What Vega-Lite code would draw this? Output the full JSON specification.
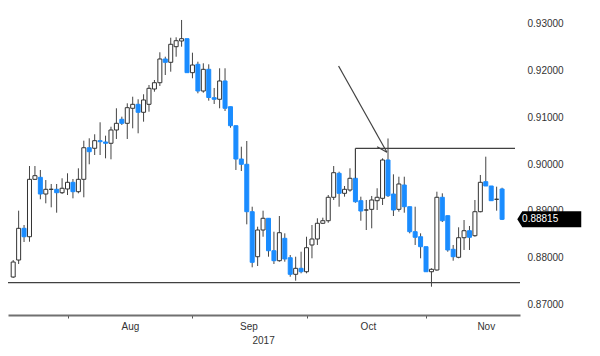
{
  "$schema": "https://vega.github.io/schema/vega-lite/v6.json",
  "autosize": "none",
  "width": 512,
  "height": 315,
  "padding": {"left": 8, "top": 0, "right": 80, "bottom": 41},
  "background": "#ffffff",
  "config": {
    "view": {"stroke": null},
    "font": "Liberation Sans",
    "axis": {"labelFont": "Liberation Sans", "labelFontSize": 10, "labelColor": "#333333", "grid": false}
  },
  "datasets": {
    "candles": [
      {"day": 0, "open": 0.87579, "high": 0.87943, "low": 0.87558, "close": 0.87900},
      {"day": 1, "open": 0.87943, "high": 0.89000, "low": 0.87858, "close": 0.88622},
      {"day": 2, "open": 0.88622, "high": 0.88693, "low": 0.88329, "close": 0.88442},
      {"day": 3, "open": 0.88442, "high": 0.89957, "low": 0.88335, "close": 0.89672},
      {"day": 4, "open": 0.89672, "high": 0.89957, "low": 0.89657, "close": 0.89750},
      {"day": 5, "open": 0.89715, "high": 0.89872, "low": 0.89244, "close": 0.89357},
      {"day": 6, "open": 0.89357, "high": 0.89657, "low": 0.89158, "close": 0.89458},
      {"day": 7, "open": 0.89458, "high": 0.89572, "low": 0.89072, "close": 0.89458},
      {"day": 8, "open": 0.89458, "high": 0.89572, "low": 0.88957, "close": 0.89385},
      {"day": 9, "open": 0.89385, "high": 0.89694, "low": 0.89357, "close": 0.89480},
      {"day": 10, "open": 0.89465, "high": 0.89801, "low": 0.89336, "close": 0.89608},
      {"day": 11, "open": 0.89608, "high": 0.89679, "low": 0.89265, "close": 0.89407},
      {"day": 12, "open": 0.89407, "high": 0.89908, "low": 0.89372, "close": 0.89672},
      {"day": 13, "open": 0.89672, "high": 0.90500, "low": 0.89287, "close": 0.90349},
      {"day": 14, "open": 0.90349, "high": 0.90551, "low": 0.89994, "close": 0.90264},
      {"day": 15, "open": 0.90337, "high": 0.90637, "low": 0.90193, "close": 0.90500},
      {"day": 16, "open": 0.90500, "high": 0.90894, "low": 0.90193, "close": 0.90478},
      {"day": 17, "open": 0.90472, "high": 0.90607, "low": 0.90122, "close": 0.90444},
      {"day": 18, "open": 0.90444, "high": 0.90799, "low": 0.90101, "close": 0.90729},
      {"day": 19, "open": 0.90729, "high": 0.91194, "low": 0.90536, "close": 0.90872},
      {"day": 20, "open": 0.90958, "high": 0.91014, "low": 0.90836, "close": 0.90872},
      {"day": 21, "open": 0.90872, "high": 0.91301, "low": 0.90536, "close": 0.91207},
      {"day": 22, "open": 0.91194, "high": 0.91442, "low": 0.90765, "close": 0.91279},
      {"day": 23, "open": 0.91279, "high": 0.91387, "low": 0.90658, "close": 0.91108},
      {"day": 24, "open": 0.91108, "high": 0.91494, "low": 0.90907, "close": 0.91372},
      {"day": 25, "open": 0.91279, "high": 0.91693, "low": 0.91121, "close": 0.91622},
      {"day": 26, "open": 0.91607, "high": 0.91800, "low": 0.91549, "close": 0.91742},
      {"day": 27, "open": 0.91742, "high": 0.92394, "low": 0.91672, "close": 0.92250},
      {"day": 28, "open": 0.92250, "high": 0.92299, "low": 0.91907, "close": 0.92179},
      {"day": 29, "open": 0.92179, "high": 0.92706, "low": 0.91978, "close": 0.92565},
      {"day": 30, "open": 0.92514, "high": 0.92715, "low": 0.92299, "close": 0.92642},
      {"day": 31, "open": 0.92636, "high": 0.93086, "low": 0.92514, "close": 0.92685},
      {"day": 32, "open": 0.92685, "high": 0.92685, "low": 0.91957, "close": 0.91957},
      {"day": 33, "open": 0.91957, "high": 0.92385, "low": 0.91837, "close": 0.92121},
      {"day": 34, "open": 0.92136, "high": 0.92192, "low": 0.91515, "close": 0.91564},
      {"day": 35, "open": 0.91564, "high": 0.92158, "low": 0.91528, "close": 0.92029},
      {"day": 36, "open": 0.92029, "high": 0.92136, "low": 0.91357, "close": 0.91425},
      {"day": 37, "open": 0.91421, "high": 0.91629, "low": 0.91286, "close": 0.91387},
      {"day": 38, "open": 0.91387, "high": 0.92051, "low": 0.91194, "close": 0.91779},
      {"day": 39, "open": 0.91779, "high": 0.92051, "low": 0.91136, "close": 0.91194},
      {"day": 40, "open": 0.91228, "high": 0.91228, "low": 0.90778, "close": 0.90821},
      {"day": 41, "open": 0.90821, "high": 0.90821, "low": 0.89872, "close": 0.90107},
      {"day": 42, "open": 0.90107, "high": 0.90371, "low": 0.89850, "close": 0.89994},
      {"day": 43, "open": 0.89994, "high": 0.90493, "low": 0.88708, "close": 0.88978},
      {"day": 44, "open": 0.88978, "high": 0.89085, "low": 0.87787, "close": 0.87894},
      {"day": 45, "open": 0.88014, "high": 0.88657, "low": 0.87815, "close": 0.88586},
      {"day": 46, "open": 0.88586, "high": 0.89000, "low": 0.88442, "close": 0.88837},
      {"day": 47, "open": 0.88837, "high": 0.88837, "low": 0.88014, "close": 0.88142},
      {"day": 48, "open": 0.88142, "high": 0.88550, "low": 0.87858, "close": 0.87928},
      {"day": 49, "open": 0.87928, "high": 0.88886, "low": 0.87907, "close": 0.88528},
      {"day": 50, "open": 0.88408, "high": 0.88515, "low": 0.87907, "close": 0.87965},
      {"day": 51, "open": 0.87992, "high": 0.88050, "low": 0.87585, "close": 0.87637},
      {"day": 52, "open": 0.87637, "high": 0.88014, "low": 0.87500, "close": 0.87765},
      {"day": 53, "open": 0.87765, "high": 0.88121, "low": 0.87658, "close": 0.87692},
      {"day": 54, "open": 0.87692, "high": 0.88442, "low": 0.87658, "close": 0.88207},
      {"day": 55, "open": 0.88265, "high": 0.88693, "low": 0.87980, "close": 0.88393},
      {"day": 56, "open": 0.88393, "high": 0.88837, "low": 0.88265, "close": 0.88730},
      {"day": 57, "open": 0.88730, "high": 0.88850, "low": 0.88715, "close": 0.88785},
      {"day": 58, "open": 0.88785, "high": 0.89336, "low": 0.88742, "close": 0.89287},
      {"day": 59, "open": 0.89287, "high": 0.89957, "low": 0.89229, "close": 0.89814},
      {"day": 60, "open": 0.89801, "high": 0.89835, "low": 0.89085, "close": 0.89372},
      {"day": 61, "open": 0.89372, "high": 0.89529, "low": 0.89300, "close": 0.89458},
      {"day": 62, "open": 0.89443, "high": 0.89908, "low": 0.89407, "close": 0.89694},
      {"day": 63, "open": 0.89694, "high": 0.89694, "low": 0.89171, "close": 0.89192},
      {"day": 64, "open": 0.89214, "high": 0.89300, "low": 0.88785, "close": 0.88993},
      {"day": 65, "open": 0.89015, "high": 0.89229, "low": 0.88586, "close": 0.89015},
      {"day": 66, "open": 0.89029, "high": 0.89315, "low": 0.88622, "close": 0.89229},
      {"day": 67, "open": 0.89214, "high": 0.89480, "low": 0.89015, "close": 0.89287},
      {"day": 68, "open": 0.89265, "high": 0.90122, "low": 0.89122, "close": 0.90086},
      {"day": 69, "open": 0.90086, "high": 0.90547, "low": 0.89293, "close": 0.89321},
      {"day": 70, "open": 0.89357, "high": 0.89779, "low": 0.88886, "close": 0.89015},
      {"day": 71, "open": 0.89029, "high": 0.89728, "low": 0.88978, "close": 0.89572},
      {"day": 72, "open": 0.89550, "high": 0.89728, "low": 0.88957, "close": 0.89085},
      {"day": 73, "open": 0.89085, "high": 0.89085, "low": 0.88515, "close": 0.88550},
      {"day": 74, "open": 0.88550, "high": 0.89085, "low": 0.88265, "close": 0.88430},
      {"day": 75, "open": 0.88442, "high": 0.88515, "low": 0.87980, "close": 0.88228},
      {"day": 76, "open": 0.88228, "high": 0.88228, "low": 0.87692, "close": 0.87692},
      {"day": 77, "open": 0.87692, "high": 0.87765, "low": 0.87371, "close": 0.87744},
      {"day": 78, "open": 0.87729, "high": 0.89407, "low": 0.87714, "close": 0.89287},
      {"day": 79, "open": 0.89287, "high": 0.89372, "low": 0.88757, "close": 0.88785},
      {"day": 80, "open": 0.88893, "high": 0.88893, "low": 0.88121, "close": 0.88158},
      {"day": 81, "open": 0.88173, "high": 0.88265, "low": 0.87928, "close": 0.88014},
      {"day": 82, "open": 0.88001, "high": 0.88644, "low": 0.87980, "close": 0.88421},
      {"day": 83, "open": 0.88421, "high": 0.88800, "low": 0.88158, "close": 0.88571},
      {"day": 84, "open": 0.88571, "high": 0.88672, "low": 0.88158, "close": 0.88430},
      {"day": 85, "open": 0.88464, "high": 0.89229, "low": 0.88442, "close": 0.88978},
      {"day": 86, "open": 0.88978, "high": 0.89765, "low": 0.88965, "close": 0.89608},
      {"day": 87, "open": 0.89621, "high": 0.90157, "low": 0.89529, "close": 0.89529},
      {"day": 88, "open": 0.89529, "high": 0.89529, "low": 0.89214, "close": 0.89214},
      {"day": 89, "open": 0.89244, "high": 0.89514, "low": 0.89000, "close": 0.89244},
      {"day": 90, "open": 0.89465, "high": 0.89492, "low": 0.88800, "close": 0.88815}
    ],
    "segments": [
      {"x": 63, "x2": 92.38, "y": 0.90336, "y2": 0.90336},
      {"x": 63, "x2": 63, "y": 0.89694, "y2": 0.90336},
      {"x": 59.9, "x2": 68.8, "y": 0.92100, "y2": 0.90251},
      {"x": 67.0, "x2": 68.8, "y": 0.90371, "y2": 0.90251}
    ],
    "support": [{"level": 0.87457}]
  },
  "layer": [
    {
      "data": {"name": "candles"},
      "mark": {"type": "rule", "color": "#444444", "strokeWidth": 1, "clip": true},
      "encoding": {
        "x": {
          "field": "day", "type": "quantitative",
          "scale": {"domain": [-0.036, 92.38], "nice": false, "zero": false},
          "axis": {
            "title": null,
            "values": [10, 21.5, 33, 43.3, 46, 54, 65.3, 76, 87],
            "labelExpr": "datum.value == 21.5 ? 'Aug' : datum.value == 43.3 ? 'Sep' : datum.value == 46 ? '2017' : datum.value == 65.3 ? 'Oct' : datum.value == 87 ? 'Nov' : ''",
            "labelOverlap": false,
            "labelFlush": false,
            "labelBound": false,
            "labelPadding": {"condition": {"test": "datum.value == 46", "value": 17}, "value": 3},
            "tickSize": 3,
            "tickColor": "#555555",
            "tickOpacity": {"condition": {"test": "datum.value == 10 || datum.value == 33 || datum.value == 54 || datum.value == 76", "value": 1}, "value": 0},
            "domainColor": "#707070",
            "domainWidth": 2
          }
        },
        "y": {
          "field": "low", "type": "quantitative",
          "scale": {"domain": [0.86765, 0.93514], "nice": false, "zero": false},
          "axis": {
            "title": null,
            "orient": "right",
            "values": [0.87, 0.88, 0.89, 0.90, 0.91, 0.92, 0.93],
            "format": ".5f",
            "domain": false,
            "ticks": false,
            "labelPadding": 7,
            "labelBaseline": "middle"
          }
        },
        "y2": {"field": "high"}
      }
    },
    {
      "data": {"name": "candles"},
      "mark": {"type": "bar", "size": 4, "strokeWidth": 1, "clip": true},
      "encoding": {
        "x": {"field": "day", "type": "quantitative"},
        "y": {"field": "open", "type": "quantitative"},
        "y2": {"field": "close"},
        "fill": {"condition": {"test": "datum.close >= datum.open", "value": "#ffffff"}, "value": "#1a8cff"},
        "stroke": {"condition": {"test": "datum.close >= datum.open", "value": "#333333"}, "value": "#1a8cff"}
      }
    },
    {
      "data": {"name": "support"},
      "mark": {"type": "rule", "color": "#404040", "strokeWidth": 1.3},
      "encoding": {"y": {"field": "level", "type": "quantitative"}}
    },
    {
      "data": {"name": "segments"},
      "mark": {"type": "rule", "color": "#404040", "strokeWidth": 1.2},
      "encoding": {
        "x": {"field": "x", "type": "quantitative"},
        "x2": {"field": "x2"},
        "y": {"field": "y", "type": "quantitative"},
        "y2": {"field": "y2"}
      }
    },
    {
      "data": {"name": "candles"},
      "transform": [{"filter": "datum.day == 90"}],
      "mark": {"type": "point", "shape": "M1.9,0L2.525,-1L9.9,-1L9.9,1L2.525,1Z", "size": 256, "filled": true, "color": "#000000", "opacity": 1, "strokeWidth": 0},
      "encoding": {
        "x": {"field": "day", "type": "quantitative"},
        "y": {"field": "close", "type": "quantitative"}
      }
    },
    {
      "data": {"name": "candles"},
      "transform": [{"filter": "datum.day == 90"}],
      "mark": {"type": "text", "align": "left", "baseline": "middle", "dx": 20, "color": "#ffffff", "font": "Liberation Sans", "fontSize": 10},
      "encoding": {
        "x": {"field": "day", "type": "quantitative"},
        "y": {"field": "close", "type": "quantitative"},
        "text": {"field": "close", "type": "quantitative", "format": ".5f"}
      }
    }
  ]
}
